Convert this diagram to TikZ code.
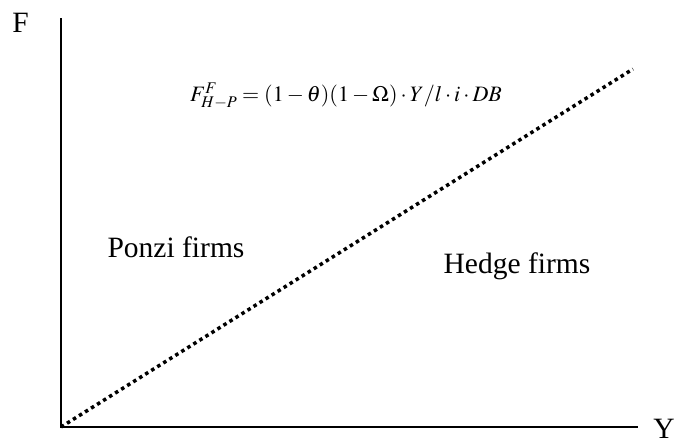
\documentclass[tikz,border=0pt]{standalone}
\usepackage{mathptmx}
\usepackage[no-math]{fontspec}
\setmainfont{Liberation Serif}
\tikzset{
  axis/.style={line width=2pt},
  lab/.style={font=\fontsize{29.5}{34}\selectfont, inner sep=0pt},
  frm/.style={font=\fontsize{22}{26}\selectfont, inner sep=0pt},
  boundary/.style={line width=3.5pt, dash pattern=on 3.5pt off 3.6pt},
}
\begin{document}
\begin{tikzpicture}[x=1pt,y=-1pt]
\useasboundingbox (0,0) rectangle (676,442);
\coordinate (o) at (61,427);
\coordinate (ytop) at (61,18);
\coordinate (xend) at (638,427);
\coordinate (lend) at (633,69);
\draw[axis] (ytop) -- (o) -- (xend);
\draw[boundary] (o) -- (lend);
\node[lab] (F) at (20.5,23) {F};
\node[lab] (Y) at (664,429) {Y};
\node[lab] (ponzi) at (176,247) {Ponzi firms};
\node[lab] (hedge) at (517,266) {Hedge firms};
\node[frm] (eq) at (346,96) {$F_{H-P}^{F}=(1-\theta)(1-\Omega)\cdot Y/l\cdot i\cdot DB$};
\end{tikzpicture}
\end{document}
